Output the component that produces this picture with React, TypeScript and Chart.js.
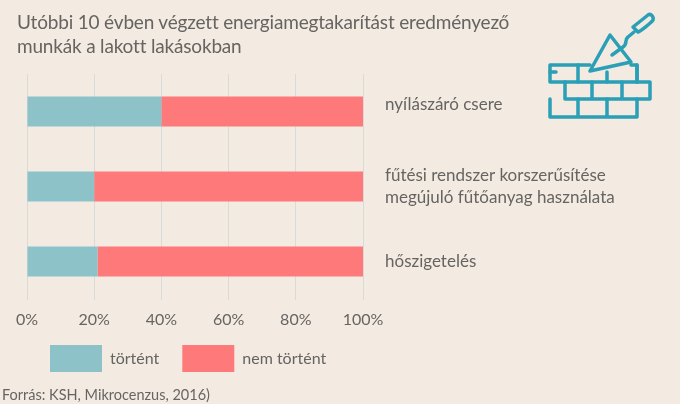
import React, { useEffect, useRef } from "react";
import { Chart, registerables } from "chart.js";

Chart.register(...registerables);

const categories = [["nyílászáró csere", ""], ["fűtési rendszer korszerűsítése", "megújuló fűtőanyag használata"], "hőszigetelés"];
const happened = [40, 20, 21];
const notHappened = [60, 80, 79];
const seriesNames = ["történt", "nem történt"];
const titleLines = ["Utóbbi 10 évben végzett energiamegtakarítást eredményező", "munkák a lakott lakásokban"];
const sourceText = "Forrás: KSH, Mikrocenzus, 2016)";

const FONT = "Lato, 'Open Sans', sans-serif";
const TEXT = "#666462";
const TEAL = "rgba(130,190,198,0.9)";
const RED = "#FE7979";
const BG = "#F3EBE2";
const ICON = "#2A9FB5";

// The legend sits tight under the axis, so the axis box is only extended for drawing its labels.
const extendAxisBox = {
  id: "extendAxisBox",
  afterLayout(chart: any) {
    chart.scales.x.bottom += 26;
  },
};

function Icon() {
  return (
    <svg width="680" height="404" style={{ position: "absolute", left: 0, top: 0, pointerEvents: "none" }}>
      <g fill="none" stroke={ICON} strokeWidth="3.5" strokeLinejoin="round" strokeLinecap="round">
        <path d="M590 65H550V82H637V65H631" />
        <path d="M578 65V82M607 72V82M637 65V82" />
        <path d="M550 72H556" />
        <path d="M565 82V99H650V82H637M592 82V99M622 82V99" />
        <path d="M550 99V117H637V99M578 99V117M607 99V117" />
        <path d="M590 71L610 35L631 62Z" />
        <path d="M612 55L623 47C628 44 624 40 628 37L634 32" />
        <path d="M633 27L648 15C651 13 654 17 653 20C652 22 641 31 638 32Z" />
      </g>
    </svg>
  );
}

export default function App() {
  const ref = useRef<HTMLCanvasElement>(null);
  useEffect(() => {
    document.body.style.margin = "0";
    document.body.style.background = BG;
    const chart = new Chart(ref.current!, {
      type: "bar",
      plugins: [extendAxisBox],
      data: {
        labels: categories as any,
        datasets: [
          { label: seriesNames[0], data: happened, backgroundColor: TEAL, barPercentage: 0.4, categoryPercentage: 1 },
          { label: seriesNames[1], data: notHappened, backgroundColor: RED, barPercentage: 0.4, categoryPercentage: 1 },
        ],
      },
      options: {
        indexAxis: "y",
        animation: false,
        responsive: false,
        layout: { padding: { left: 27, top: 74, right: 0, bottom: 22 } },
        plugins: {
          tooltip: { enabled: false },
          legend: {
            position: "bottom",
            align: "start",
            labels: { boxWidth: 52, boxHeight: 27, padding: 23, color: TEXT, font: { family: FONT, size: 16 } },
          },
        },
        scales: {
          x: {
            stacked: true,
            min: 0,
            max: 100,
            border: { display: false },
            grid: { color: "#D9DBDB", lineWidth: 1, drawTicks: true, tickLength: 1 },
            ticks: { stepSize: 20, maxRotation: 0, padding: 10, color: TEXT, font: { family: FONT, size: 16 }, callback: (v) => v + "%" },
            afterFit: (s: any) => { s.height = 23; },
          },
          y: {
            stacked: true,
            position: "right",
            border: { display: false },
            grid: { display: false },
            ticks: {
              padding: 14,
              color: TEXT,
              crossAlign: "near",
              align: "center",
              font: (c: any) => ({ family: FONT, size: 17, lineHeight: c.index === 0 ? "14px" : "22px" }),
            } as any,
            afterFit: (s: any) => { s.width = 317; },
          },
        },
      } as any,
    });
    return () => chart.destroy();
  }, []);
  return (
    <div style={{ position: "relative", width: 680, height: 404, background: BG, overflow: "hidden" }}>
      <canvas ref={ref} width={680} height={404} style={{ display: "block" }} />
      <div style={{ position: "absolute", left: 17, top: 10, color: TEXT, font: `19px/24px ${FONT}`, letterSpacing: "-0.18px", whiteSpace: "nowrap" }}>
        {titleLines.map((t) => <div key={t}>{t}</div>)}
      </div>
      <div style={{ position: "absolute", left: 2, top: 386, color: TEXT, font: `14.5px/18px ${FONT}`, whiteSpace: "nowrap" }}>{sourceText}</div>
      <Icon />
    </div>
  );
}
